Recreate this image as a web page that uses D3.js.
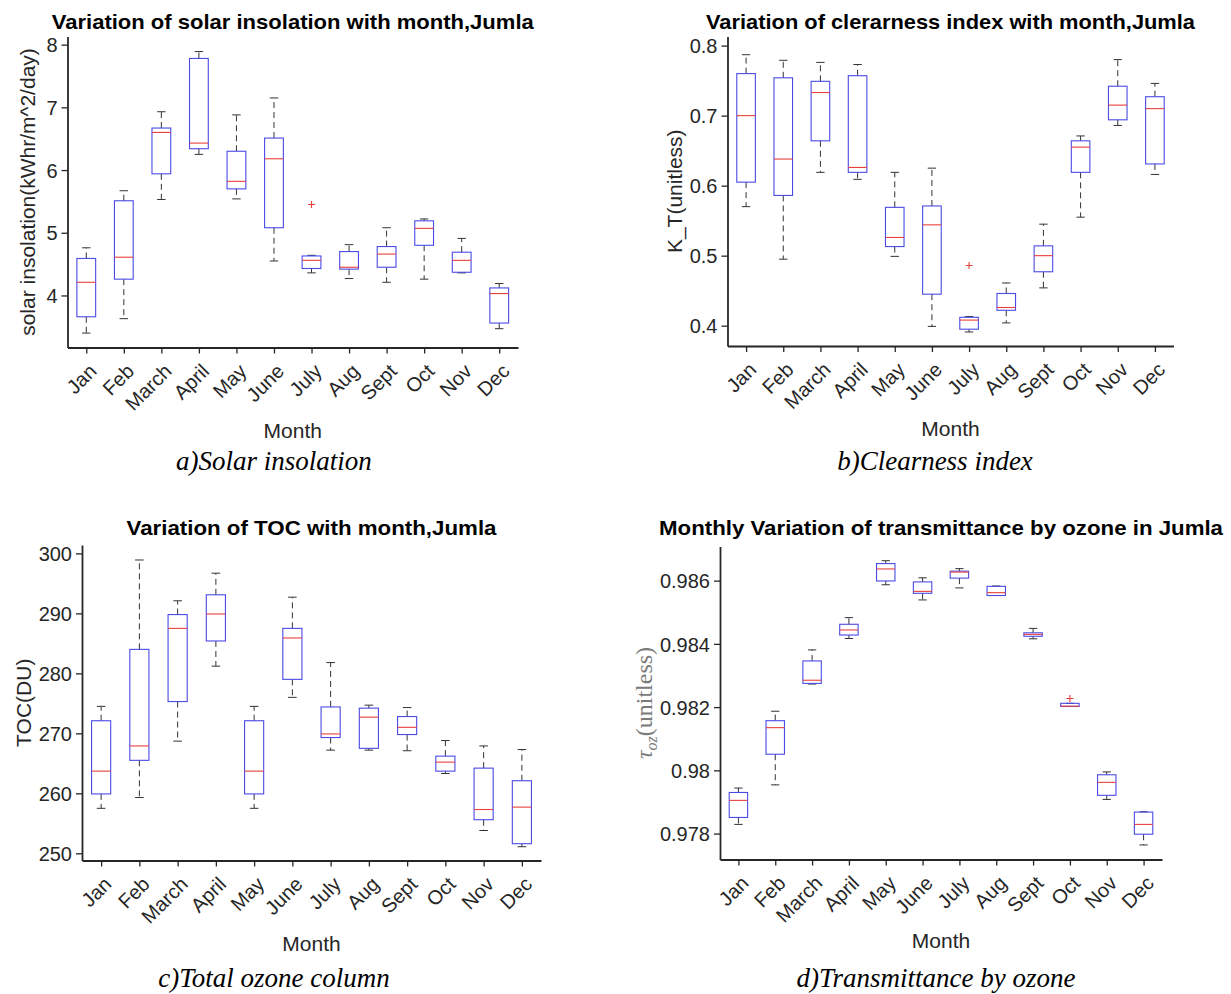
<!DOCTYPE html>
<html>
<head>
<meta charset="utf-8">
<script src="https://cdn.jsdelivr.net/npm/d3@7"></script>
<style>
  html, body { margin: 0; padding: 0; background: #fff; }
  svg { display: block; }
  .tick text { font-family: "Liberation Sans", Arial, sans-serif; fill: #262626; }
</style>
</head>
<body>
<svg id="chart" width="1231" height="994"></svg>
<script>
// month categories shared by all four panels
const months = ["Jan", "Feb", "March", "April", "May", "June", "July", "Aug", "Sept", "Oct", "Nov", "Dec"];

// a) solar insolation, kWhr/m^2/day -- whisker low, q1, median, q3, whisker high
const insolLo  = [3.40, 3.63, 5.53, 6.25, 5.54, 4.55, 4.36, 4.27, 4.21, 4.26, 4.36, 3.47];
const insolQ1  = [3.66, 4.26, 5.94, 6.34, 5.70, 5.08, 4.43, 4.42, 4.45, 4.80, 4.37, 3.56];
const insolMed = [4.21, 4.61, 6.60, 6.43, 5.82, 6.18, 4.56, 4.45, 4.66, 5.07, 4.56, 4.03];
const insolQ3  = [4.59, 5.51, 6.67, 7.78, 6.30, 6.51, 4.63, 4.70, 4.78, 5.19, 4.69, 4.12];
const insolHi  = [4.76, 5.67, 6.93, 7.89, 6.88, 7.15, 4.64, 4.81, 5.08, 5.22, 4.91, 4.19];
const insolOut = [{ month: "July", value: 5.45 }];
const insolTicks = [4, 5, 6, 7, 8];

// b) clearness index K_T
const ktLo  = [0.570, 0.495, 0.619, 0.609, 0.499, 0.399, 0.391, 0.404, 0.454, 0.555, 0.686, 0.616];
const ktQ1  = [0.605, 0.586, 0.664, 0.619, 0.513, 0.445, 0.395, 0.422, 0.477, 0.619, 0.694, 0.631];
const ktMed = [0.700, 0.638, 0.733, 0.626, 0.526, 0.544, 0.408, 0.426, 0.500, 0.655, 0.715, 0.710];
const ktQ3  = [0.760, 0.754, 0.749, 0.757, 0.569, 0.571, 0.412, 0.446, 0.514, 0.664, 0.742, 0.727];
const ktHi  = [0.787, 0.779, 0.776, 0.773, 0.619, 0.625, 0.413, 0.461, 0.545, 0.671, 0.780, 0.746];
const ktOut = [{ month: "July", value: 0.486 }];
const ktTicks = [0.4, 0.5, 0.6, 0.7, 0.8];

// c) total ozone column, DU
const tocLo  = [257.5, 259.3, 268.7, 281.2, 257.5, 276.0, 267.2, 267.2, 267.1, 263.3, 253.8, 251.1];
const tocQ1  = [259.9, 265.5, 275.3, 285.4, 259.9, 279.0, 269.3, 267.5, 269.8, 263.7, 255.6, 251.6];
const tocMed = [263.7, 267.9, 287.5, 289.9, 263.7, 285.9, 269.9, 272.7, 271.0, 265.2, 257.3, 257.7];
const tocQ3  = [272.1, 284.0, 289.8, 293.1, 272.1, 287.5, 274.4, 274.2, 272.8, 266.2, 264.2, 262.1];
const tocHi  = [274.5, 298.9, 292.1, 296.7, 274.5, 292.7, 281.8, 274.7, 274.3, 268.8, 267.9, 267.3];
const tocOut = [];
const tocTicks = [250, 260, 270, 280, 290, 300];

// d) transmittance by ozone
const tozLo  = [0.97829, 0.97954, 0.98273, 0.98417, 0.98587, 0.98539, 0.98577, 0.98553, 0.98416, 0.98202, 0.97908, 0.97764];
const tozQ1  = [0.97851, 0.98051, 0.98275, 0.98428, 0.98599, 0.98560, 0.98608, 0.98553, 0.98424, 0.98202, 0.97921, 0.97798];
const tozMed = [0.97905, 0.98135, 0.98285, 0.98444, 0.98637, 0.98566, 0.98627, 0.98562, 0.98430, 0.98203, 0.97962, 0.97829];
const tozQ3  = [0.97930, 0.98157, 0.98346, 0.98462, 0.98654, 0.98596, 0.98630, 0.98582, 0.98435, 0.98212, 0.97986, 0.97868];
const tozHi  = [0.97944, 0.98187, 0.98381, 0.98483, 0.98663, 0.98609, 0.98638, 0.98583, 0.98449, 0.98212, 0.97995, 0.97869];
const tozOut = [{ month: "Oct", value: 0.98227 }];
const tozTicks = [0.978, 0.980, 0.982, 0.984, 0.986];

function stats(lo, q1, med, q3, hi) {
  return months.map((m, i) => ({ month: m, lo: lo[i], q1: q1[i], med: med[i], q3: q3[i], hi: hi[i] }));
}

const panels = [
  {
    title: "Variation of solar insolation with month,Jumla", titleLen: 482, titleY: 29,
    ylabel: "solar insolation(kWhr/m^2/day)", ylabelX: 35,
    caption: "a)Solar insolation", captionX: 274, captionY: 470, monthY: 438,
    x0: 67.5, x1: 518, yTop: 36.5, yBot: 347.5, domain: [3.17, 8.13],
    ticks: insolTicks, fmt: d3.format("d"),
    boxes: stats(insolLo, insolQ1, insolMed, insolQ3, insolHi), outliers: insolOut,
  },
  {
    title: "Variation of clerarness index with month,Jumla", titleLen: 489, titleY: 29,
    ylabel: "K_T(unitless)", ylabelX: 682,
    caption: "b)Clearness index", captionX: 935, captionY: 470, monthY: 436,
    x0: 727.5, x1: 1173.5, yTop: 36.5, yBot: 346, domain: [0.371, 0.813],
    ticks: ktTicks, fmt: d3.format(".1f"),
    boxes: stats(ktLo, ktQ1, ktMed, ktQ3, ktHi), outliers: ktOut,
  },
  {
    title: "Variation of TOC with month,Jumla", titleLen: 370, titleY: 535,
    ylabel: "TOC(DU)", ylabelX: 31,
    caption: "c)Total ozone column", captionX: 274, captionY: 987, monthY: 951,
    x0: 82, x1: 541, yTop: 545, yBot: 860.5, domain: [248.8, 301.4],
    ticks: tocTicks, fmt: d3.format("d"),
    boxes: stats(tocLo, tocQ1, tocMed, tocQ3, tocHi), outliers: tocOut,
  },
  {
    title: "Monthly Variation of transmittance by ozone in Jumla", titleLen: 564, titleY: 535,
    ylabel: null, ylabelX: 652,
    caption: "d)Transmittance by ozone", captionX: 936, captionY: 987, monthY: 948,
    x0: 720, x1: 1162, yTop: 546.5, yBot: 859.5, domain: [0.97718, 0.98708],
    ticks: tozTicks, fmt: (d) => String(+d.toFixed(3)),
    boxes: stats(tozLo, tozQ1, tozMed, tozQ3, tozHi), outliers: tozOut,
  },
];

const svg = d3.select("#chart");
const sans = '"Liberation Sans", Arial, sans-serif';
const axisColor = "#262626";

panels.forEach((p) => {
  const g = svg.append("g");
  const x = d3.scalePoint().domain(months).range([p.x0, p.x1]).padding(0.5);
  const y = d3.scaleLinear().domain(p.domain).range([p.yBot, p.yTop]);
  const step = x.step();
  const bw = step * 0.5;
  const cw = bw * 0.45;

  // y axis
  const ya = g.append("g")
    .attr("transform", `translate(${p.x0},0)`)
    .call(d3.axisLeft(y).tickValues(p.ticks).tickFormat(p.fmt).tickSize(6).tickSizeOuter(0).tickPadding(4));
  ya.select(".domain").attr("stroke", axisColor).attr("stroke-width", 1.8);
  ya.selectAll(".tick line").attr("stroke", axisColor).attr("stroke-width", 1.3);
  ya.selectAll(".tick text").style("font-size", "20px").attr("dy", "0.36em");

  // x axis, labels rotated like MATLAB's xtickangle(45)
  const xa = g.append("g")
    .attr("transform", `translate(0,${p.yBot})`)
    .call(d3.axisBottom(x).tickSize(6).tickSizeOuter(0));
  xa.select(".domain").attr("stroke", axisColor).attr("stroke-width", 1.8);
  xa.selectAll(".tick line").attr("stroke", axisColor).attr("stroke-width", 1.3);
  xa.selectAll(".tick text")
    .style("font-size", "20px")
    .attr("text-anchor", "end")
    .attr("dy", null)
    .attr("y", 0)
    .attr("transform", "translate(11,25) rotate(-45)");

  // boxes
  const b = g.selectAll("g.box").data(p.boxes).join("g").attr("class", "box");
  b.append("line") // upper whisker
    .attr("x1", (d) => x(d.month)).attr("x2", (d) => x(d.month))
    .attr("y1", (d) => y(d.q3)).attr("y2", (d) => y(d.hi))
    .attr("stroke", "#333").attr("stroke-width", 1).attr("stroke-dasharray", "6,4");
  b.append("line") // lower whisker
    .attr("x1", (d) => x(d.month)).attr("x2", (d) => x(d.month))
    .attr("y1", (d) => y(d.q1)).attr("y2", (d) => y(d.lo))
    .attr("stroke", "#333").attr("stroke-width", 1).attr("stroke-dasharray", "6,4");
  b.append("line")
    .attr("x1", (d) => x(d.month) - cw / 2).attr("x2", (d) => x(d.month) + cw / 2)
    .attr("y1", (d) => y(d.hi)).attr("y2", (d) => y(d.hi))
    .attr("stroke", "#333").attr("stroke-width", 1);
  b.append("line")
    .attr("x1", (d) => x(d.month) - cw / 2).attr("x2", (d) => x(d.month) + cw / 2)
    .attr("y1", (d) => y(d.lo)).attr("y2", (d) => y(d.lo))
    .attr("stroke", "#333").attr("stroke-width", 1);
  b.append("rect")
    .attr("x", (d) => x(d.month) - bw / 2).attr("width", bw)
    .attr("y", (d) => y(d.q3)).attr("height", (d) => Math.max(0.5, y(d.q1) - y(d.q3)))
    .attr("fill", "none").attr("stroke", "#4a4ae6").attr("stroke-width", 1.1);
  b.append("line")
    .attr("x1", (d) => x(d.month) - bw / 2).attr("x2", (d) => x(d.month) + bw / 2)
    .attr("y1", (d) => y(d.med)).attr("y2", (d) => y(d.med))
    .attr("stroke", "#e8403c").attr("stroke-width", 1.1);

  // outliers as red "+"
  g.selectAll("path.out").data(p.outliers).join("path").attr("class", "out")
    .attr("d", (d) => {
      const cx = x(d.month), cy = y(d.value), r = 3.5;
      return `M${cx - r},${cy}H${cx + r}M${cx},${cy - r}V${cy + r}`;
    })
    .attr("stroke", "#e8403c").attr("stroke-width", 1.1);

  // title
  g.append("text")
    .attr("x", (p.x0 + p.x1) / 2).attr("y", p.titleY)
    .attr("text-anchor", "middle")
    .attr("textLength", p.titleLen).attr("lengthAdjust", "spacingAndGlyphs")
    .style("font-family", sans).style("font-weight", "bold").style("font-size", "21px")
    .attr("fill", "#000")
    .text(p.title);

  // y label
  const yc = (p.yTop + p.yBot) / 2;
  if (p.ylabel) {
    g.append("text")
      .attr("transform", `translate(${p.ylabelX},${yc}) rotate(-90)`)
      .attr("text-anchor", "middle")
      .style("font-family", sans).style("font-size", "21px")
      .attr("fill", axisColor)
      .text(p.ylabel);
  } else {
    // LaTeX-style \tau_{oz}(unitless)
    const t = g.append("text")
      .attr("transform", `translate(${p.ylabelX},${yc}) rotate(-90)`)
      .attr("text-anchor", "middle")
      .style("font-family", '"Liberation Serif", "DejaVu Serif", serif').style("font-size", "24px")
      .attr("fill", "#7a7a7a");
    t.append("tspan").style("font-style", "italic").text("τ");
    t.append("tspan").style("font-style", "italic").style("font-size", "16px").attr("dy", 5).text("oz");
    t.append("tspan").attr("dy", -5).text("(unitless)");
  }

  // x label
  g.append("text")
    .attr("x", (p.x0 + p.x1) / 2).attr("y", p.monthY)
    .attr("text-anchor", "middle")
    .style("font-family", sans).style("font-size", "21px")
    .attr("fill", axisColor)
    .text("Month");

  // figure caption
  g.append("text")
    .attr("x", p.captionX).attr("y", p.captionY)
    .attr("text-anchor", "middle")
    .style("font-family", '"Liberation Serif", "Times New Roman", serif')
    .style("font-style", "italic").style("font-size", "27px")
    .attr("fill", "#000")
    .text(p.caption);
});
</script>
</body>
</html>
